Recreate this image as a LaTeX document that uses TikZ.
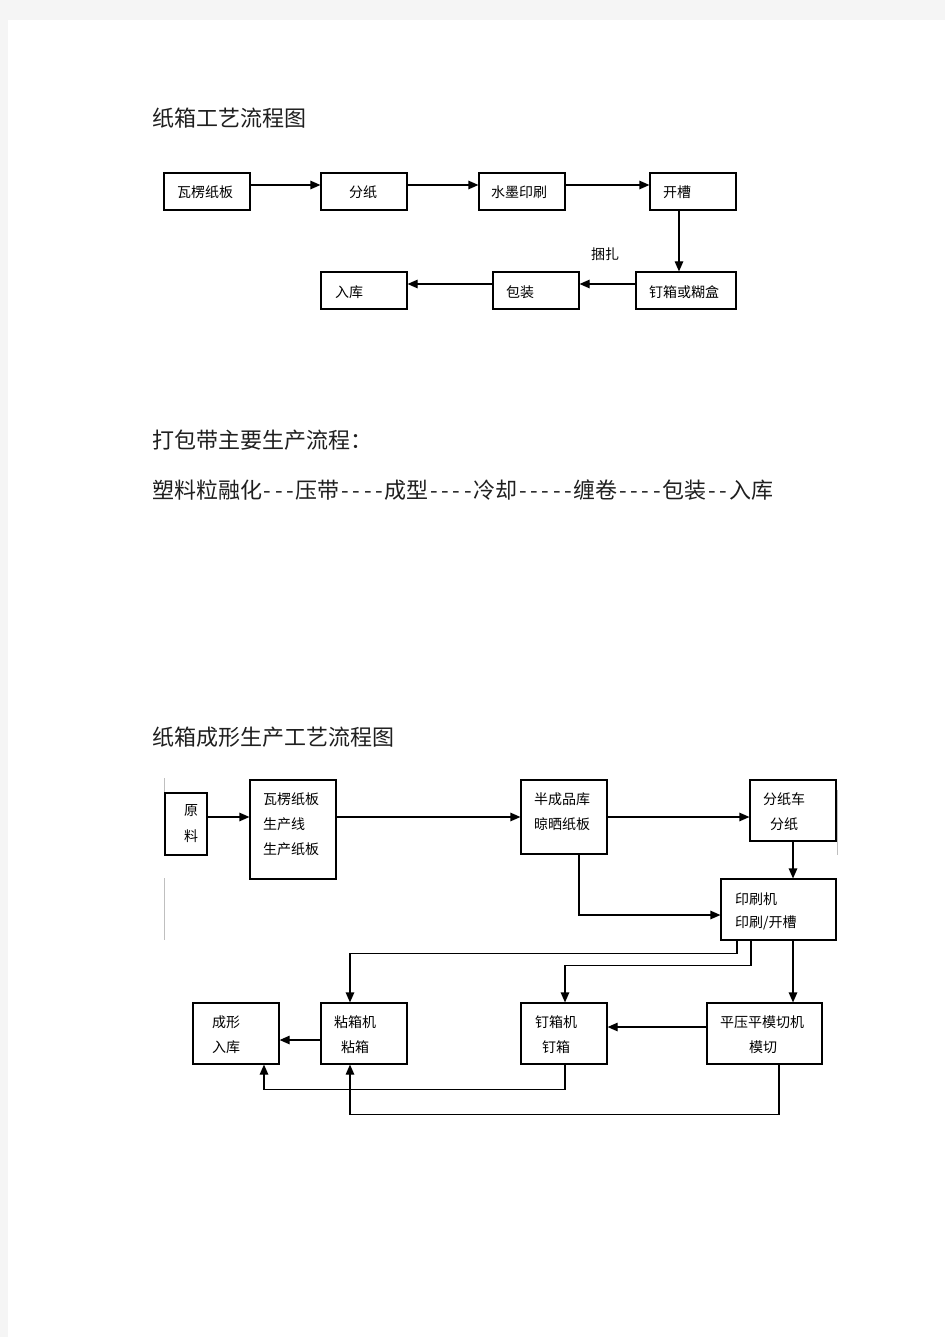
\documentclass[tikz,border=0pt]{standalone}
\usepackage{fontspec}
\newfontfamily\cjk{Noto Sans CJK SC}
\usetikzlibrary{arrows.meta}
\newcommand\hy{\makebox[0.51em]{-}}
\begin{document}
\begin{tikzpicture}[x=1pt,y=-1pt,
  box/.style={draw=black,line width=1.2pt,inner sep=0pt,minimum width=86pt,minimum height=37pt},
  wbox/.style={box,minimum width=115pt},
  txt/.style={font=\cjk\fontsize{14}{14}\selectfont,inner sep=0pt,anchor=west},
  ctxt/.style={font=\cjk\fontsize{14}{14}\selectfont,inner sep=0pt},
  head/.style={font=\cjk\fontsize{22}{22}\selectfont,inner sep=0pt,anchor=west,text=black!88},
  arr/.style={line width=1.2pt,-{Triangle[length=10pt,width=8.5pt]}},
  ghost/.style={line width=0.9pt,draw=black!25}]
\useasboundingbox (0,0) rectangle (945,1337);
\fill[black!4] (0,0) rectangle (945,1337);
\fill[white] (8,20) rectangle (945,1337);

% headings
\node[head] (h1) at (152,118) {纸箱工艺流程图};
\node[head] (h2) at (152,440) {打包带主要生产流程：};
\node[head] (h3) at (152,490) {塑料粒融化\hy\hy\hy 压带\hy\hy\hy\hy 成型\hy\hy\hy\hy 冷却\hy\hy\hy\hy\hy 缠卷\hy\hy\hy\hy 包装\hy\hy 入库};
\node[head] (h4) at (152,737) {纸箱成形生产工艺流程图};

% top flowchart
\node[box] (wlb) at (207,191.5) {};
\node[box] (fz) at (364,191.5) {};
\node[box] (sm) at (522,191.5) {};
\node[box] (kc) at (693,191.5) {};
\node[box,minimum width=100pt] (dx) at (686,290.5) {};
\node[box] (bz) at (536,290.5) {};
\node[box] (rk) at (364,290.5) {};
\node[txt] (t1) at (177,192) {瓦楞纸板};
\node[ctxt] (t2) at (363,192) {分纸};
\node[txt] (t3) at (491,192) {水墨印刷};
\node[txt] (t4) at (663,192) {开槽};
\node[txt] (t5) at (649,292) {钉箱或糊盒};
\node[txt] (t6) at (506,292) {包装};
\node[txt] (t7) at (335,292) {入库};
\node[ctxt] (kz) at (605,254) {捆扎};
\draw[arr] ([yshift=6.5pt]wlb.east) -- ([yshift=6.5pt]fz.west);
\draw[arr] ([yshift=6.5pt]fz.east) -- ([yshift=6.5pt]sm.west);
\draw[arr] ([yshift=6.5pt]sm.east) -- ([yshift=6.5pt]kc.west);
\draw[arr] ([xshift=-14pt]kc.south) -- ([xshift=-14pt]kc.south |- dx.north);
\draw[arr] ([yshift=6.5pt]dx.west) -- ([yshift=6.5pt]bz.east);
\draw[arr] ([yshift=6.5pt]bz.west) -- ([yshift=6.5pt]rk.east);

% bottom flowchart
\draw[ghost] (164,778) -- (164,855);
\draw[ghost] (164,878) -- (164,940);
\draw[ghost] (837.5,790) -- (837.5,855);
\node[box,minimum width=42pt,minimum height=62pt] (yl) at (186,824) {};
\node[box,minimum height=99pt] (wl) at (293,829.5) {};
\node[box,minimum height=74pt] (bcp) at (564,817) {};
\node[box,minimum height=61pt] (fzc) at (793,810.5) {};
\node[wbox,minimum height=61pt] (ysj) at (778.5,909.5) {};
\node[box,minimum height=61pt] (cx) at (236,1033.5) {};
\node[box,minimum height=61pt] (zxj) at (364,1033.5) {};
\node[box,minimum height=61pt] (dxj) at (564,1033.5) {};
\node[wbox,minimum height=61pt] (pyp) at (764.5,1033.5) {};

\node[ctxt] (b1) at (191,811) {原};
\node[ctxt] (b2) at (191,836) {料};
\node[txt] (b3) at (263,799) {瓦楞纸板};
\node[txt] (b4) at (263,824) {生产线};
\node[txt] (b5) at (263,849) {生产纸板};
\node[txt] (b6) at (534,799) {半成品库};
\node[txt] (b7) at (534,824) {晾晒纸板};
\node[txt] (b8) at (763,799) {分纸车};
\node[ctxt] (b9) at (784,824) {分纸};
\node[txt] (b10) at (735,899) {印刷机};
\node[txt] (b11) at (735,923) {印刷/开槽};
\node[txt] (b12) at (212,1022) {成形};
\node[txt] (b13) at (212,1047) {入库};
\node[txt] (b14) at (334,1022) {粘箱机};
\node[ctxt] (b15) at (355,1047) {粘箱};
\node[txt] (b16) at (535,1022) {钉箱机};
\node[ctxt] (b17) at (556,1047) {钉箱};
\node[txt] (b18) at (720,1022) {平压平模切机};
\node[ctxt] (b19) at (763,1047) {模切};

\draw[arr] (yl.east |- bcp.west) -- (wl.west |- bcp.west);
\draw[arr] (wl.east |- bcp.west) -- (bcp.west);
\draw[arr] (bcp.east) -- (fzc.west |- bcp.east);
\draw[arr] (fzc.south) -- (fzc.south |- ysj.north);
\draw[arr] ([xshift=15pt]bcp.south) |- ([yshift=-5.5pt]ysj.west);
\draw[arr] ([xshift=-41.5pt]ysj.south) -- ++(0,13) -| ([xshift=-14pt]zxj.north);
\draw[arr] ([xshift=-27.5pt]ysj.south) -- ++(0,25) -| ([xshift=1pt]dxj.north);
\draw[arr] ([xshift=14.5pt]ysj.south) -- ([xshift=14.5pt]ysj.south |- pyp.north);
\draw[arr] ([yshift=6.5pt]pyp.west) -- ([yshift=6.5pt]dxj.east);
\draw[arr] ([yshift=-6.5pt]zxj.west) -- ([yshift=-6.5pt]cx.east);
\draw[arr] ([xshift=1pt]dxj.south) -- ++(0,25) -| ([xshift=28pt]cx.south);
\draw[arr] ([xshift=14.5pt]pyp.south) -- ++(0,50) -| ([xshift=-14pt]zxj.south);
\end{tikzpicture}
\end{document}
